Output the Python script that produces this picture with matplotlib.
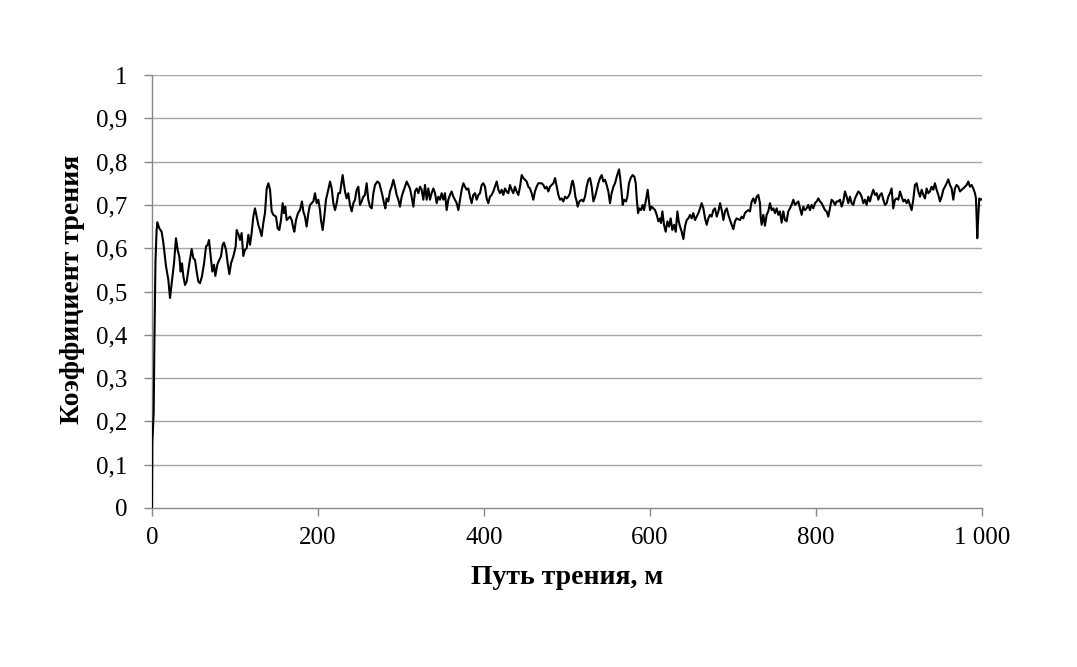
import matplotlib
matplotlib.use("Agg")
import matplotlib.pyplot as plt
from matplotlib.ticker import FixedLocator, FuncFormatter

# Friction path (m) and friction coefficient
path_m = [0, 0.4, 2.0, 3.0, 4.2, 5.5, 6.4, 8.8, 11.6, 13.7, 16.9, 19.7, 21.7, 23.7, 26.5, 28.9, 30.9, 32.9, 34.5,
          36.1, 37.8, 39.8, 41.8, 45.0, 47.8, 49.8, 51.8, 53.8, 55.8, 57.8, 60.2, 62.7, 65.1, 67.1, 68.7, 70.7,
          72.7, 74.7, 76.3, 78.7, 81.1, 83.1, 85.1, 86.7, 89.2, 91.2, 93.2, 95.2, 98.0, 100.8, 102.0, 104.4,
          106.0, 108.0, 110.0, 112.0, 114.1, 116.1, 118.1, 120.1, 122.1, 124.1, 126.1, 128.1, 130.1, 132.1,
          134.1, 136.1, 138.2, 140.2, 142.2, 144.2, 146.2, 149.4, 151.4, 153.4, 155.4, 157.4, 159.0, 160.6,
          162.2, 164.3, 166.3, 168.3, 170.3, 171.5, 173.5, 175.9, 178.3, 180.7, 182.3, 184.3, 186.3, 188.4,
          190.4, 192.4, 194.4, 196.4, 198.4, 200.4, 202.4, 203.6, 205.6, 207.6, 209.6, 212.4, 214.5, 216.5,
          218.5, 220.5, 222.5, 224.5,
          226.5, 229.7, 232.5, 234.5, 236.5, 238.5, 240.6, 242.6, 244.6, 246.6, 248.6, 250.6, 252.6, 254.6,
          256.6, 258.6, 260.6, 262.6, 264.7, 266.7, 268.7, 271.5, 273.9, 275.5, 277.5, 279.5, 281.1, 282.7,
          284.7, 286.7, 288.7, 290.8, 292.8, 294.8, 296.8, 298.8, 300.8, 302.8, 304.8, 306.8, 308.8, 310.8,
          312.8, 314.9, 316.9, 318.9, 320.9, 322.9, 324.9, 326.9, 328.9, 330.9, 332.9, 334.9, 336.9, 339.0,
          341.0, 343.0, 345.0, 347.0, 349.0, 351.0, 353.0, 355.0, 357.0, 359.0, 361.0, 363.0, 365.0, 367.1,
          369.1, 371.1, 373.1, 375.1, 377.1, 379.1, 381.1, 383.1, 385.1, 387.1, 389.1, 391.2, 393.2, 395.2,
          397.2, 399.2, 401.2, 403.2, 405.2, 407.2, 409.2, 411.2, 413.2, 415.3, 417.3, 419.3, 421.3, 423.3,
          425.3, 427.3, 429.3, 431.3, 433.3, 435.3, 437.3, 439.3, 441.4, 443.4, 445.4, 447.4, 449.4, 451.4,
          453.4, 455.4, 457.4, 459.4, 461.4, 463.4, 465.5,
          467.5, 469.5, 471.5, 473.5, 475.5, 477.5, 479.5, 481.6, 483.6, 485.6, 487.6, 489.6, 491.6, 493.6,
          495.6, 497.6, 499.6, 501.6, 503.6, 505.7, 506.9, 508.5, 510.1, 511.7, 512.9, 514.9, 517.7, 519.7,
          521.7, 523.7, 525.7, 527.7, 529.7, 531.8, 533.8, 535.8, 537.8, 539.8, 541.8, 543.8, 545.8, 547.8,
          549.8, 551.8, 553.8, 555.9, 557.9, 559.9, 562.7, 563.9, 565.9, 567.1, 568.7, 571.1, 572.7, 574.7,
          576.7, 579.1, 581.2, 582.8, 584.0, 585.6, 587.2, 589.2, 591.2, 592.8, 595.2, 597.2, 598.8, 600.0,
          602.0, 604.0, 606.1, 608.1, 610.1, 612.1, 613.3, 614.9, 616.9, 618.9, 620.9, 622.9, 624.9, 626.9,
          629.0, 631.0, 633.0, 634.6, 636.2, 638.2, 640.2, 642.2, 644.2, 646.2, 648.2, 650.2, 652.2, 654.2,
          656.3, 658.3, 660.3, 662.3, 664.3, 666.3, 668.3, 670.3, 672.3, 674.3, 676.3, 678.3, 680.4, 682.4,
          684.4, 686.4, 688.4, 690.4, 692.4, 694.4, 696.4, 698.4, 700.4, 702.4, 704.4, 708.5,
          710.4, 712.4, 714.4, 716.4, 718.4, 720.4, 722.5, 724.5, 726.5, 728.5, 730.5, 732.5, 733.3, 734.5,
          736.5, 738.5, 740.5, 742.5, 744.5, 746.6, 748.6, 750.6, 752.6, 754.6, 756.6, 758.6, 760.6, 762.6,
          764.6, 766.6, 768.6, 770.6, 772.7, 774.7, 776.7, 778.7, 780.7, 782.7, 784.7, 786.7, 788.7, 790.7,
          792.7, 794.7, 796.8, 798.8, 800.8, 802.8, 804.8, 806.8, 808.8, 810.8, 812.8, 814.8, 816.8, 818.8,
          820.8, 822.9, 824.9, 826.9, 828.9, 830.9, 832.9, 834.9, 836.9, 838.9, 840.9, 842.9, 844.9, 847.0,
          849.0, 851.0, 853.0, 855.0, 857.0, 859.0, 861.0, 863.0, 865.0, 867.0, 869.0, 871.1, 873.1, 875.1,
          877.1, 879.1, 881.1, 883.1, 885.1, 887.1, 889.1, 891.1, 893.1, 895.1, 897.2, 899.2, 901.2, 903.2,
          905.2, 907.2, 909.2, 911.2, 913.2, 915.2, 917.2, 919.2, 921.2, 923.3, 925.3, 927.3, 929.3, 931.3,
          933.3, 935.3, 937.3, 939.3, 941.3, 943.3, 945.3, 947.4, 949.4, 951.4, 953.4, 955.4, 957.4, 959.4,
          961.4, 963.4, 965.4, 967.4, 969.4, 971.5, 973.5, 975.5, 977.5, 979.5, 981.5, 983.5, 985.5, 987.5,
          989.5, 991.5, 992.7, 993.5, 994.3, 995.5, 996.7, 998.3, 1000.0]

friction = [0.0, 0.15, 0.22, 0.40, 0.57, 0.64, 0.66, 0.646, 0.638, 0.612, 0.558, 0.527, 0.485, 0.519, 0.565, 0.623,
            0.596, 0.581, 0.546, 0.565, 0.535, 0.515, 0.523, 0.565, 0.598, 0.577, 0.573, 0.546, 0.523, 0.519,
            0.535, 0.565, 0.604, 0.608, 0.619, 0.581, 0.546, 0.562, 0.536, 0.562, 0.573, 0.581, 0.608, 0.613,
            0.596, 0.565, 0.540, 0.565, 0.581, 0.604, 0.642, 0.631, 0.619, 0.635, 0.582, 0.596, 0.600, 0.631,
            0.608, 0.636, 0.673, 0.692, 0.673, 0.654, 0.642, 0.628, 0.658, 0.681, 0.738, 0.750, 0.735, 0.685,
            0.677, 0.673, 0.646, 0.642, 0.665, 0.704, 0.681, 0.696, 0.665, 0.669, 0.673, 0.665, 0.646, 0.638,
            0.665, 0.681, 0.688, 0.708, 0.685, 0.673, 0.650, 0.681, 0.700, 0.704, 0.708, 0.727, 0.704, 0.712,
            0.688, 0.665, 0.642, 0.673, 0.712, 0.735, 0.754, 0.738, 0.704, 0.688, 0.704, 0.727,
            0.727, 0.769, 0.731, 0.715, 0.727, 0.700, 0.685, 0.704, 0.712, 0.735, 0.742, 0.700, 0.708, 0.719,
            0.723, 0.750, 0.712, 0.696, 0.692, 0.727, 0.746, 0.754, 0.750, 0.738, 0.723, 0.704, 0.692, 0.715,
            0.708, 0.731, 0.742, 0.758, 0.742, 0.723, 0.712, 0.696, 0.719, 0.731, 0.742, 0.754, 0.746, 0.738,
            0.719, 0.696, 0.731, 0.738, 0.727, 0.742, 0.735, 0.712, 0.746, 0.712, 0.738, 0.712, 0.727, 0.738,
            0.727, 0.704, 0.719, 0.712, 0.727, 0.712, 0.727, 0.688, 0.712, 0.723, 0.731, 0.719, 0.712, 0.704,
            0.688, 0.712, 0.735, 0.750, 0.742, 0.735, 0.738, 0.719, 0.704, 0.723, 0.727, 0.712, 0.723, 0.727,
            0.746, 0.750, 0.742, 0.715, 0.704, 0.719, 0.723, 0.731, 0.742, 0.754, 0.735, 0.727, 0.735, 0.723,
            0.738, 0.731, 0.727, 0.746, 0.735, 0.727, 0.742, 0.731, 0.723, 0.742, 0.769, 0.762, 0.758, 0.754,
            0.742, 0.738, 0.727, 0.712, 0.731, 0.742, 0.750,
            0.750, 0.750, 0.746, 0.738, 0.742, 0.731, 0.742, 0.746, 0.750, 0.762, 0.742, 0.723, 0.712, 0.715,
            0.708, 0.719, 0.715, 0.719, 0.727, 0.750, 0.756, 0.742, 0.719, 0.708, 0.696, 0.708, 0.712, 0.708,
            0.719, 0.742, 0.758, 0.762, 0.742, 0.708, 0.719, 0.735, 0.750, 0.762, 0.769, 0.754, 0.758, 0.746,
            0.731, 0.704, 0.727, 0.742, 0.750, 0.765, 0.782, 0.765, 0.727, 0.700, 0.712, 0.708, 0.719, 0.750,
            0.762, 0.769, 0.765, 0.750, 0.715, 0.681, 0.692, 0.688, 0.700, 0.688, 0.712, 0.735, 0.708, 0.688,
            0.696, 0.692, 0.688, 0.677, 0.662, 0.669, 0.658, 0.685, 0.654, 0.638, 0.662, 0.650, 0.669, 0.642,
            0.654, 0.638, 0.685, 0.662, 0.650, 0.638, 0.621, 0.650, 0.665, 0.669, 0.677, 0.669, 0.681, 0.665,
            0.673, 0.681, 0.692, 0.704, 0.692, 0.669, 0.654, 0.669, 0.677, 0.673, 0.688, 0.692, 0.673, 0.685,
            0.704, 0.688, 0.665, 0.685, 0.692, 0.677, 0.665, 0.654, 0.644, 0.662, 0.669, 0.665,
            0.673, 0.669, 0.681, 0.685, 0.688, 0.685, 0.708, 0.715, 0.704, 0.719, 0.723, 0.704, 0.673, 0.654,
            0.677, 0.652, 0.677, 0.685, 0.704, 0.688, 0.692, 0.681, 0.692, 0.677, 0.685, 0.659, 0.685, 0.665,
            0.662, 0.685, 0.692, 0.700, 0.712, 0.700, 0.704, 0.708, 0.692, 0.677, 0.696, 0.688, 0.692, 0.700,
            0.688, 0.700, 0.692, 0.704, 0.708, 0.715, 0.708, 0.704, 0.696, 0.688, 0.685, 0.673, 0.692, 0.712,
            0.708, 0.700, 0.708, 0.708, 0.712, 0.696, 0.708, 0.731, 0.719, 0.704, 0.719, 0.704, 0.700, 0.715,
            0.723, 0.731, 0.727, 0.719, 0.704, 0.712, 0.700, 0.719, 0.708, 0.723, 0.735, 0.723, 0.727, 0.712,
            0.723, 0.727, 0.712, 0.700, 0.704, 0.719, 0.727, 0.738, 0.692, 0.712, 0.715, 0.712, 0.731, 0.719,
            0.708, 0.712, 0.704, 0.712, 0.700, 0.688, 0.712, 0.746, 0.750, 0.731, 0.719, 0.735, 0.723, 0.715,
            0.738, 0.727, 0.731, 0.742, 0.735, 0.750, 0.735, 0.723, 0.708, 0.719, 0.735, 0.742, 0.750, 0.759,
            0.746, 0.738, 0.712, 0.738, 0.746, 0.742, 0.731, 0.735, 0.738, 0.742, 0.746, 0.754, 0.742, 0.746,
            0.738, 0.727, 0.715, 0.673, 0.623, 0.673, 0.715, 0.712, 0.713]

x_ticks = [0, 200, 400, 600, 800, 1000]
y_ticks = [0, 0.1, 0.2, 0.3, 0.4, 0.5, 0.6, 0.7, 0.8, 0.9, 1.0]
x_label = "Путь трения, м"
y_label = "Коэффициент трения"

plt.rcParams['font.family'] = ['Liberation Serif', 'DejaVu Serif']

W, H = 1077, 667
fig = plt.figure(figsize=(W / 100, H / 100), dpi=100)
ax = fig.add_axes([152 / W, 1 - 508 / H, 830 / W, 433 / H])

grid_color = '#a6a6a6'
for yv in y_ticks[1:]:
    ax.axhline(yv, color=grid_color, lw=1.0, zorder=1)

ax.plot(path_m, friction, color='black', lw=1.5, zorder=3)

ax.set_xlim(0, 1000)
ax.set_ylim(0, 1)
ax.xaxis.set_major_locator(FixedLocator(x_ticks))
ax.yaxis.set_major_locator(FixedLocator(y_ticks))


def fmt_x(v, pos):
    v = int(round(v))
    return f"{v:,}".replace(",", " ")


def fmt_y(v, pos):
    if abs(v - round(v)) < 1e-9:
        return str(int(round(v)))
    return f"{v:.1f}".replace(".", ",")


ax.xaxis.set_major_formatter(FuncFormatter(fmt_x))
ax.yaxis.set_major_formatter(FuncFormatter(fmt_y))

for side in ['top', 'right']:
    ax.spines[side].set_visible(False)
for side in ['left', 'bottom']:
    ax.spines[side].set_color('#868686')
    ax.spines[side].set_linewidth(1.0)

ax.tick_params(axis='both', which='major', direction='out', length=5.5, width=1.0,
               color='#868686', labelsize=18, labelcolor='black')
ax.tick_params(axis='x', pad=8)
ax.tick_params(axis='y', pad=12)

fig.text(567 / W, 1 - 578 / H, x_label, fontsize=20, fontweight='bold', ha='center', va='center')
fig.text(73 / W, 1 - 289 / H, y_label, fontsize=20, fontweight='bold', ha='center', va='center',
         rotation=90)

fig.savefig("out.png", dpi=100, facecolor='white')
